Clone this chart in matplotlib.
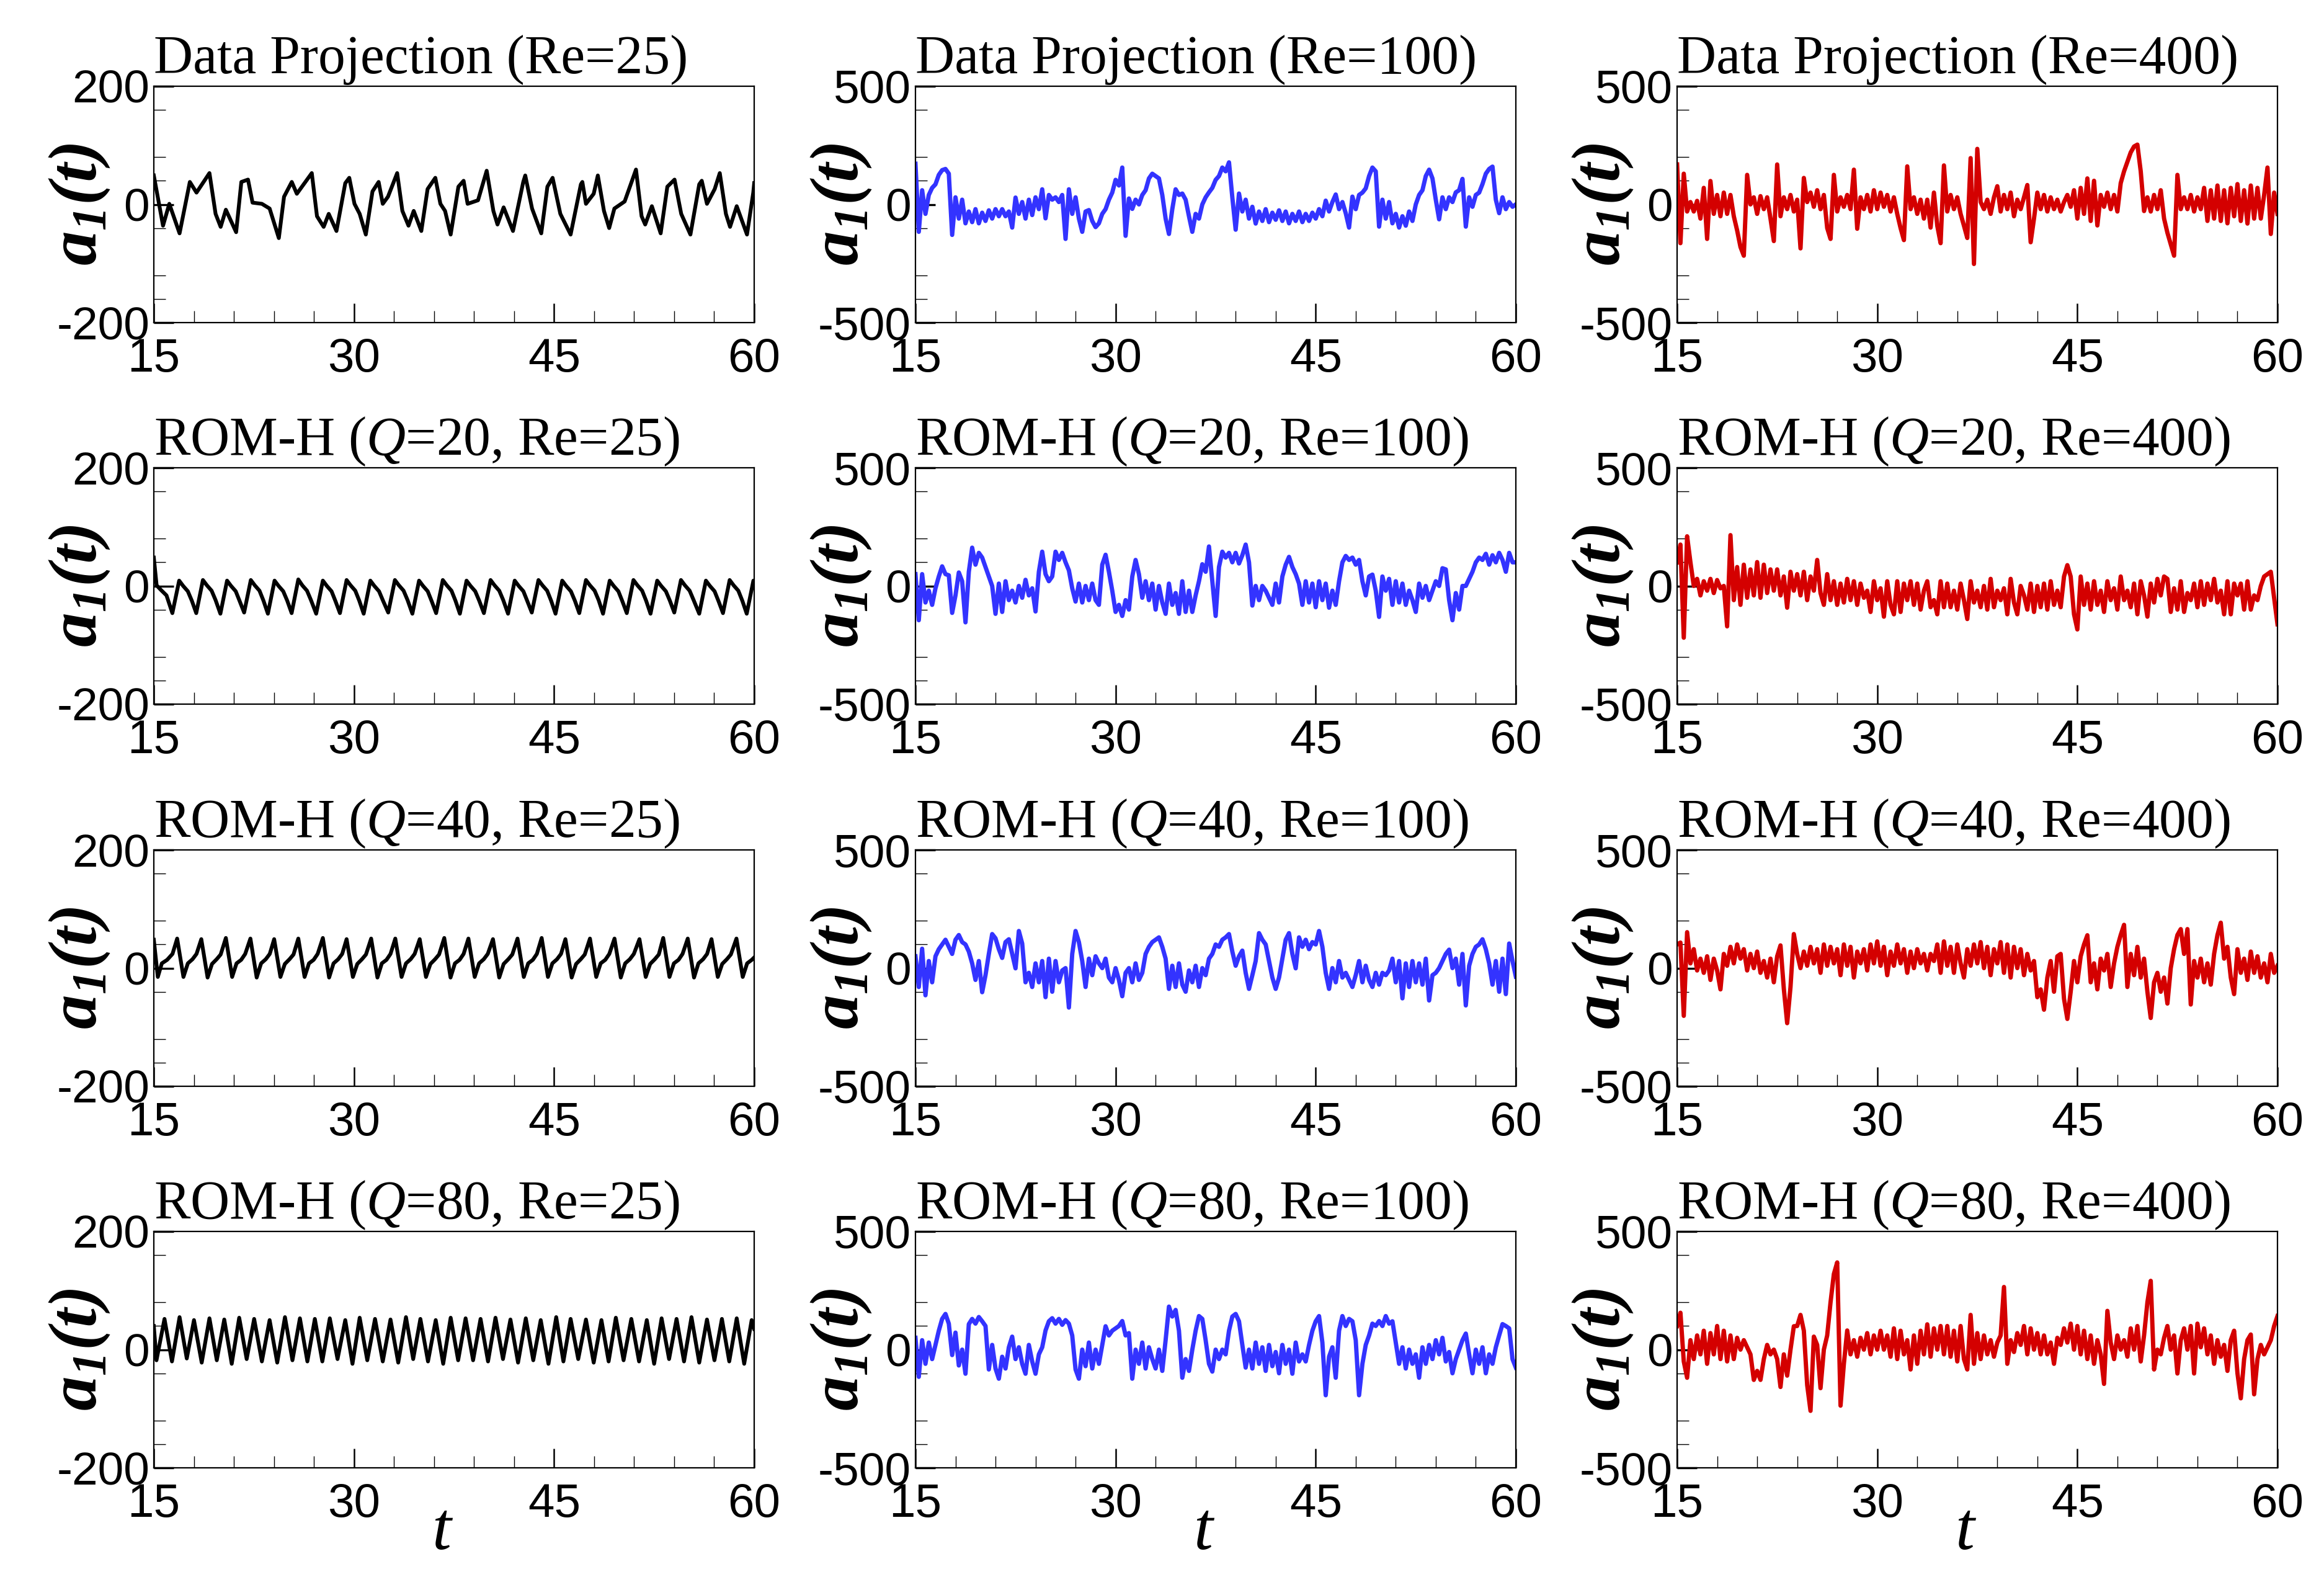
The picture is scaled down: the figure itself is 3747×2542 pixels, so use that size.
import numpy as np
import matplotlib
matplotlib.use('Agg')
import matplotlib.pyplot as plt
from matplotlib.ticker import FixedLocator

plt.rcParams['mathtext.fontset'] = 'custom'
plt.rcParams['mathtext.rm'] = 'Liberation Serif'
plt.rcParams['mathtext.it'] = 'Liberation Serif:italic'
plt.rcParams['mathtext.bf'] = 'Liberation Serif:bold:italic'
plt.rcParams['axes.unicode_minus'] = False

# ---------------- data ----------------
T0, T1 = 15, 60
x_major = [15, 30, 45, 60]
x_minor = [18, 21, 24, 27, 33, 36, 39, 42, 48, 51, 54, 57]
y_minor_frac = [0.8, 0.4, 0.2, -0.2, -0.6, -0.8]
y_range = [200, 500, 500]
colors = ['#000000', '#3333FF', '#D40000']

titles = [
    ['Data Projection (Re=25)', 'Data Projection (Re=100)', 'Data Projection (Re=400)'],
    ['ROM-H ($Q$=20, Re=25)', 'ROM-H ($Q$=20, Re=100)', 'ROM-H ($Q$=20, Re=400)'],
    ['ROM-H ($Q$=40, Re=25)', 'ROM-H ($Q$=40, Re=100)', 'ROM-H ($Q$=40, Re=400)'],
    ['ROM-H ($Q$=80, Re=25)', 'ROM-H ($Q$=80, Re=100)', 'ROM-H ($Q$=80, Re=400)'],
]

# Re=25 series: extrema/keypoints (t, a1)
t_dp25 = [15.00,15.69,16.16,16.93,17.70,18.20,19.17,19.63,20.01,20.40,21.17,21.56,22.06,22.40,23.10,23.68,
          24.37,24.76,25.34,25.72,26.84,27.23,27.73,28.11,28.69,29.35,29.65,30.04,30.43,30.89,31.39,31.85,
          32.16,32.55,33.24,33.63,34.09,34.48,35.05,35.52,36.10,36.48,36.83,37.25,37.83,38.22,38.52,39.30,
          39.95,40.45,40.76,41.22,41.92,42.69,42.84,43.35,44.04,44.50,44.89,45.47,46.24,47.01,47.12,47.39,
          47.97,48.28,48.74,49.13,49.52,50.29,51.14,51.56,51.83,52.33,52.99,53.49,54.03,54.53,55.22,55.88,
          56.07,56.46,57.04,57.42,57.88,58.19,58.69,59.46,59.93,60.00]
a_dp25 = [49,-36,1,-49,38,20,53,-16,-38,-9,-47,38,42,3,1,-7,-57,13,38,18,53,-20,-38,-16,-45,36,45,1,-16,-51,
          22,38,1,13,53,-11,-36,-11,-45,26,45,1,-11,-51,30,40,1,7,57,-11,-34,-5,-45,38,49,-7,-49,30,45,-16,
          -51,34,38,1,18,49,-11,-40,-7,5,59,-20,-34,-3,-49,30,42,-16,-51,34,40,1,26,53,-16,-38,-3,-51,20,36]

t_q20_25 = [15.00,15.21,15.50,15.95,16.39,
            16.90,17.20,17.55,17.85,18.18, 18.68,18.98,19.33,19.63,19.99, 20.49,20.79,21.14,21.44,21.77,
            22.27,22.57,22.92,23.22,23.55, 24.05,24.35,24.70,25.00,25.33, 25.83,26.13,26.48,26.78,27.17,
            27.67,27.97,28.32,28.62,28.95, 29.45,29.75,30.10,30.40,30.73, 31.23,31.53,31.88,32.18,32.57,
            33.07,33.37,33.72,34.02,34.38, 34.88,35.18,35.53,35.83,36.16, 36.66,36.96,37.31,37.61,37.94,
            38.44,38.74,39.09,39.39,39.74, 40.24,40.54,40.89,41.19,41.55, 42.05,42.35,42.70,43.00,43.33,
            43.83,44.13,44.48,44.78,45.11, 45.61,45.91,46.26,46.56,46.89, 47.39,47.69,48.04,48.34,48.67,
            49.17,49.47,49.82,50.12,50.45, 50.95,51.25,51.60,51.90,52.23, 52.73,53.03,53.38,53.68,54.01,
            54.51,54.81,55.16,55.46,55.88, 56.38,56.68,57.03,57.33,57.66, 58.16,58.46,58.81,59.11,59.44,
            59.94,60.00]
a_q20_25 = [48,1,-6,-16,-46,
            9,0,-9,-25,-46, 10,1,-8,-24,-47, 9,0,-9,-26,-45,
            10,1,-8,-25,-47, 9,0,-9,-25,-46, 11,1,-8,-24,-47,
            9,0,-9,-26,-46, 10,1,-8,-25,-47, 9,0,-9,-25,-45,
            10,1,-8,-24,-47, 9,0,-9,-26,-46, 10,1,-8,-25,-47,
            9,0,-9,-25,-46, 10,1,-8,-24,-47, 9,0,-9,-26,-45,
            10,1,-8,-25,-47, 9,0,-9,-25,-46, 10,1,-8,-24,-47,
            9,0,-9,-26,-46, 10,1,-8,-25,-47, 9,0,-9,-25,-45,
            10,1,-8,-24,-47, 9,0,-9,-26,-46, 10,1,-8,-25,-47,
            9,8]

t_q40_25 = [15.00,15.30,15.60,16.00,16.40,
            16.75,17.22,17.55,17.90,18.20, 18.56,19.03,19.36,19.71,20.01, 20.40,20.87,21.20,21.55,21.85,
            22.24,22.71,23.04,23.39,23.69, 24.02,24.49,24.82,25.17,25.47, 25.83,26.30,26.63,26.98,27.28,
            27.67,28.14,28.47,28.82,29.12, 29.45,29.92,30.25,30.60,30.90, 31.29,31.76,32.09,32.44,32.74,
            33.10,33.57,33.90,34.25,34.55, 34.93,35.40,35.73,36.08,36.38, 36.77,37.24,37.57,37.92,38.22,
            38.58,39.05,39.38,39.73,40.03, 40.42,40.89,41.22,41.57,41.87, 42.26,42.73,43.06,43.41,43.71,
            44.07,44.54,44.87,45.22,45.52, 45.85,46.32,46.65,47.00,47.30, 47.69,48.16,48.49,48.84,49.14,
            49.53,50.00,50.33,50.68,50.98, 51.40,51.87,52.20,52.55,52.85, 53.18,53.65,53.98,54.33,54.63,
            55.02,55.49,55.82,56.17,56.47, 56.80,57.27,57.60,57.95,58.25, 58.67,59.14,59.47,59.82,60.00]
a_q40_25 = [48,-15,8,14,24,
            50,-15,8,15,24, 49,-16,7,15,23, 51,-15,8,14,24, 50,-16,8,15,24, 49,-15,7,15,23,
            50,-15,8,14,24, 51,-16,8,15,24, 49,-15,7,15,23, 50,-16,8,14,24, 50,-15,8,15,24,
            49,-15,7,15,23, 51,-16,8,14,24, 50,-15,8,15,24, 49,-16,7,15,23, 50,-15,8,14,24,
            51,-15,8,15,24, 49,-16,7,15,23, 50,-15,8,14,24, 50,-16,8,15,24, 49,-15,7,15,23,
            51,-15,8,14,24, 50,-16,8,15,24, 49,-15,7,15,23, 50,-15,8,14,18]

t_q80_25 = [15.00,15.20,15.80,16.36,16.93,17.47,18.01,18.59,19.17,19.72,20.28,20.84,21.40,21.96,22.52,23.10,
            23.68,24.25,24.83,25.39,25.95,26.51,27.07,27.63,28.19,28.77,29.35,29.89,30.43,31.00,31.58,32.16,
            32.74,33.32,33.90,34.44,34.98,35.55,36.13,36.69,37.25,37.81,38.37,38.93,39.49,40.05,40.61,41.17,
            41.73,42.30,42.88,43.44,44.00,44.58,45.16,45.70,46.24,46.81,47.39,47.97,48.55,49.09,49.63,50.21,
            50.79,51.37,51.95,52.50,53.06,53.62,54.18,54.74,55.30,55.88,56.46,57.02,57.58,58.13,58.69,59.25,
            59.81,60.00]
a_q80_25 = [40,-18,
            52,-20,55,-15,50,-22,53,-18,51,-24,54,-16,52,-20,50,-22,55,-18,53,-20,
            52,-20,53,-16,50,-24,54,-18,52,-20,51,-22,55,-16,52,-20,50,-24,54,-18,
            53,-18,52,-20,54,-16,51,-22,53,-18,50,-24,55,-20,52,-16,51,-22,50,-20,
            54,-18,52,-20,50,-24,53,-16,52,-20,55,-22,51,-18,52,-20,53,-24,50,
            35]

# Re=100 / Re=400 series: samples every 0.25 time units from t=15 to t=60
a_dp100 = [172,-116,60,-40,40,70,85,125,145,150, 130,-129,30,-60,20,-80,-30,-75,-20,-80,
           -35,-70,-25,-60,-20,-50,-20,-50,-30,-98, 29,-40,10,-60,20,-45,30,-20,64,-59,
           40,20,30,10,40,-146,64,-40,30,-60, -116,-30,-24,-70,-96,-80,-40,-20,20,50,
           104,80,156,-133,25,-19,20,0,40,60, 110,130,120,110,40,-60,-125,-20,64,40,
           46,20,-50,-116,-40,-60,0,30,51,70, 104,120,156,140,178,30,-107,46,-30,20,
           -60,-10,-81,-30,-70,-20,-75,-35,-65,-25, -70,-30,-80,-40,-70,-30,-75,-40,-70,-35,
           -60,-20,-50,16,-30,10,42,-20,10,-37, -98,33,-20,40,50,68,120,156,140,-94,
           20,-60,10,-80,-40,-98,-50,-90,-30,-70, 0,40,60,120,147,110,20,-63,30,-20,
           30,10,51,60,108,-94,30,-10,40,50, 86,130,150,160,20,-37,30,-20,10,-10, 0]
a_dp400 = [169,-164,130,-30,10,-30,15,-60,70,-146, 99,-40,40,-50,50,-40,40,-50,-110,-180,
           -217,125,0,30,-40,35,-20,30,-60,-155, 169,-50,30,-20,40,-30,20,-186,112,10,
           50,-10,60,-20,40,-100,-146,125,-30,30, -10,40,-20,147,-103,30,-20,40,-30,60,
           -20,50,-10,40,-30,30,-40,-100,-151,161, -20,30,-40,20,-60,20,-98,50,-90,-164,
           165,-30,40,-20,30,-40,-90,-142,196,-252, 235,10,-20,20,-40,30,77,-30,40,-20,
           50,-50,20,-20,30,82,-160,-60,50,-20, 40,-30,30,-20,20,-30,10,40,-10,60,
           -60,70,-40,110,-70,100,-89,40,-10,50, -20,40,-30,90,140,180,220,245,253,140,
           -28,30,-30,40,-20,60,-60,-120,-168,-217, 125,-20,30,-20,40,-30,30,-20,70,-70,
           60,-60,80,-70,60,-80,70,-50,86,-70, 60,-81,80,-60,70,-60,40,156,-125,50, -40]
a_q20_100 = [50,-145,50,-70,-20,-80,-10,40,83,50, 45,-114,-40,57,20,-154,60,162,90,140,
             120,80,40,0,-118,10,-110,20,-60,-20, -70,0,-50,26,-40,-10,-108,60,145,50,
             20,40,145,110,140,100,66,-10,-66,10, -70,0,-60,10,-60,-80,90,132,60,-20,
             -110,-80,-127,-60,-100,40,110,50,-50,20, -60,10,-100,0,-70,-118,10,-80,-30,-118,
             20,-110,-20,-110,-40,20,92,60,167,20, -127,80,145,120,140,100,140,95,130,175,
             100,-83,0,-60,0,-20,-50,-80,10,-70, 40,90,123,80,50,10,-80,20,-70,10,
             -90,20,-60,10,-92,-20,-80,20,100,127, 110,120,90,110,20,-40,40,48,-20,-131,
             40,-20,30,-80,20,-70,10,-80,-20,-60, -110,10,-50,0,-60,-20,20,0,75,70,
             -60,-145,-30,-100,0,0,30,60,100,120, 110,136,90,130,100,140,110,60,140,100, 100]
a_q20_400 = [100,175,-219,210,100,0,30,-40,20,-20, 30,-30,25,-10,0,-171,215,-60,80,-80,
             90,-50,70,-40,101,-50,90,-30,70,-20, 70,-40,40,-92,60,-20,50,-40,60,-60,
             40,-20,110,-30,-80,50,-60,20,-80,10, -70,30,-60,20,-80,10,-50,-20,-110,20,
             -60,-10,-130,20,-80,-120,20,-110,10,-60, 20,-80,10,-100,-20,20,-90,-60,-120,20,
             -90,10,-90,-20,-100,10,-60,-140,20,-70, -20,-90,0,-100,30,-90,-20,-60,-10,-120,
             30,-70,-120,0,-40,-100,10,-110,0,-90, 10,-100,20,-80,-20,-90,40,88,40,-120,
             -184,40,-80,10,-100,20,-80,-20,-110,20, -60,-10,-100,40,-60,-20,-90,10,-120,20,
             -40,-130,10,-70,30,-40,40,30,-110,-10, -100,20,-110,-30,-60,10,-90,20,-80,10,
             -60,30,-70,-20,-120,20,-120,10,-40,10, -100,20,-100,-40,-60,0,40,50,60,-50, -162]
a_q40_100 = [50,-80,82,-115,30,-60,50,80,100,120, 90,60,120,140,110,100,70,20,-50,30,
             -102,-30,60,144,126,80,43,110,122,60, -1,157,104,-60,-20,-80,20,-60,30,-123,
             40,-100,30,-60,-10,0,-167,60,157,110, 30,-80,40,-30,50,20,0,40,-40,-60,
             0,-50,-119,-20,0,-60,20,-50,-20,60, 90,110,120,130,90,40,-88,10,-80,20,
             -70,-100,-10,-60,10,-80,0,-30,40,60, 100,90,120,130,144,70,10,50,74,-20,
             -88,-30,30,148,120,100,30,-40,-88,-40, 40,120,148,60,-1,130,90,120,80,110,
             100,157,90,-20,-88,0,-60,30,-40,-20, -50,-80,-30,30,-60,10,-50,-80,-20,-70,
             -20,-30,-10,40,-60,30,-128,20,-80,30, -60,20,-70,40,-137,-30,-20,0,30,60,
             78,0,40,-70,60,-158,10,60,90,100, 122,80,20,-70,30,-100,40,-110,104,30, -36]
a_q40_400 = [100,108,-202,152,20,80,-10,40,-20,50, -50,40,-10,-90,60,10,90,20,100,40,
             80,-10,60,0,70,-20,30,-40,40,-60, 50,96,-88,-233,-80,144,60,0,70,10,
             90,20,80,-20,100,10,90,20,80,-30, 100,10,90,-40,70,20,80,-10,100,20,
             113,10,90,-30,70,10,100,20,80,-20, 70,0,80,20,60,-10,60,30,100,-20,
             113,10,90,-20,100,20,-40,80,10,100, 20,110,0,90,-30,80,20,110,-20,100,
             -40,90,0,80,-30,60,-10,30,-123,-90, -176,-40,30,-100,50,60,-130,-215,-100,30,
             -60,50,100,139,-60,20,-90,40,-10,60, -80,20,90,140,183,-80,60,-30,90,-40,
             40,-100,-211,-60,-20,-100,-40,-150,0,80, 140,165,60,165,-154,30,-40,40,-60,20,
             -70,60,140,192,40,90,-40,-110,80,-20, 40,-50,70,-20,50,-40,20,-60,60,-20, 10]
a_q80_100 = [50,-115,40,-60,30,-40,20,80,130,151, 110,-23,72,-67,0,-102,108,130,110,138,
             120,100,-84,20,-80,-123,-30,-80,10,55, -40,10,-60,-102,20,-50,-102,-20,10,81,
             120,133,110,130,105,125,110,60,-84,-123, 0,-70,30,-80,0,-60,20,99,60,80,
             90,100,121,60,70,-123,0,-60,30,-80, 10,-40,-80,0,-90,40,182,140,168,80,
             -119,-40,-90,0,80,142,130,40,-60,-93, 0,-40,0,-20,80,140,151,120,20,-76,
             0,-80,30,-60,10,-90,20,-70,-10,-100, 20,-60,0,-102,30,-50,-20,-50,20,80,
             120,142,30,-193,-30,10,-119,80,142,100, 130,120,40,-193,-60,20,60,110,100,121,
             100,142,110,120,30,-60,10,-80,0,-60, -20,-119,10,-60,20,-40,40,-20,50,-50,
             -10,-100,-40,0,40,68,-20,-100,0,-60, 10,-100,-20,-60,10,60,108,100,90,-40, -76]
a_q80_400 = [100,156,-50,-119,40,-40,60,-20,80,-60, 70,-20,100,-40,80,-50,60,-40,50,0,
             40,10,-20,-128,-90,-128,-40,20,-20,0, -40,-158,-20,-110,0,99,100,147,80,-150,
             -259,55,20,-163,0,60,200,320,369,-237, -60,81,-20,40,-30,50,0,70,-20,60,
             0,80,0,60,-30,90,-40,80,-20,40, -84,60,-60,80,-20,107,-30,90,0,100,
             -20,100,-30,80,-50,100,-40,-84,147,-60, 70,-40,60,-20,40,-30,30,60,265,-60,
             40,-10,70,20,100,-20,90,0,70,-20, 60,-20,30,-60,50,20,90,30,110,0,
             100,-20,80,-40,60,-60,40,-20,-145,164, 30,-40,60,0,40,-30,90,0,100,-50,
             60,200,291,-84,0,-20,50,100,0,60, -101,40,90,0,100,-101,110,10,90,-20,
             60,-60,40,-30,20,-90,40,80,-100,-206, -40,40,64,-189,-40,20,-20,10,40,100, 142]


def uniform(vals):
    return np.linspace(T0, T1, len(vals)), np.asarray(vals, float)


series = [
    [(t_dp25, a_dp25), uniform(a_dp100), uniform(a_dp400)],
    [(t_q20_25, a_q20_25), uniform(a_q20_100), uniform(a_q20_400)],
    [(t_q40_25, a_q40_25), uniform(a_q40_100), uniform(a_q40_400)],
    [(t_q80_25, a_q80_25), uniform(a_q80_100), uniform(a_q80_400)],
]

# ---------------- layout ----------------
W, H = 3748, 2542
fig = plt.figure(figsize=(W / 100, H / 100), dpi=100)
col_left_px = [248, 1476, 2704]
row_top_px = [139, 754, 1370, 1985]
ax_w_px, ax_h_px = 968, 381

SANS = ['Liberation Sans', 'DejaVu Sans']
SERIF = ['Liberation Serif', 'DejaVu Serif']

for r in range(4):
    for c in range(3):
        left = col_left_px[c] / W
        bottom = 1 - (row_top_px[r] + ax_h_px) / H
        ax = fig.add_axes([left, bottom, ax_w_px / W, ax_h_px / H])
        t, a = series[r][c]
        n = min(len(t), len(a))
        ax.plot(np.asarray(t[:n], float), np.asarray(a[:n], float), color=colors[c],
                lw=5.0 if c else 4.4, solid_joinstyle='round')
        R = y_range[c]
        ax.set_xlim(T0, T1)
        ax.set_ylim(-R, R)
        ax.xaxis.set_major_locator(FixedLocator(x_major))
        ax.xaxis.set_minor_locator(FixedLocator(x_minor))
        ax.yaxis.set_major_locator(FixedLocator([-R, 0, R]))
        ax.yaxis.set_minor_locator(FixedLocator([f * R for f in y_minor_frac]))
        ax.set_xticklabels([str(v) for v in x_major], family=SANS, fontsize=55)
        ax.set_yticklabels([str(-R), '0', str(R)], family=SANS, fontsize=54)
        ax.tick_params(which='both', direction='in', top=False, right=False)
        ax.tick_params(axis='x', which='major', length=22, width=1.8, pad=17)
        ax.tick_params(axis='x', which='minor', length=13.5, width=1.0)
        ax.tick_params(axis='y', which='major', length=23, width=2.4, pad=5)
        ax.tick_params(axis='y', which='minor', length=13.5, width=1.0)
        for sp in ax.spines.values():
            sp.set_linewidth(1.6)
        ax.annotate(titles[r][c], xy=(0, 1), xycoords='axes fraction',
                    xytext=(0, 15), textcoords='offset points',
                    ha='left', va='baseline', fontsize=63, family=SERIF)
        ax.text(-0.126, 0.5, r'$\mathbf{a_{1}(t)}$', transform=ax.transAxes,
                rotation=90, ha='center', va='center', fontsize=80)
        if r == 3:
            ax.text(0.479, -0.273, 't', transform=ax.transAxes, ha='center', va='center',
                    fontsize=80, family=SERIF, style='italic')

fig.savefig('out.png', dpi=100)
